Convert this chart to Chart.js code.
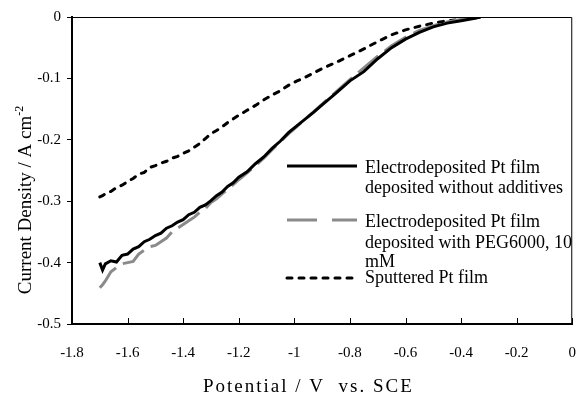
<!DOCTYPE html>
<html>
<head>
<meta charset="utf-8">
<script src="https://cdn.jsdelivr.net/npm/chart.js@4.4.0/dist/chart.umd.min.js"></script>
<style>
  html, body { margin: 0; padding: 0; background: #fff; }
  canvas { display: block; }
</style>
</head>
<body>
<canvas id="cv" width="588" height="396"></canvas>
<script>
// potential (V vs. SCE)
const potential = [-1.70, -1.69, -1.68, -1.66, -1.64, -1.62, -1.60, -1.58, -1.56, -1.54, -1.52, -1.50,
  -1.48, -1.46, -1.44, -1.42, -1.40, -1.38, -1.36, -1.34, -1.32, -1.30, -1.28, -1.26, -1.24, -1.22,
  -1.20, -1.17, -1.14, -1.11, -1.08, -1.05, -1.02, -0.99, -0.96, -0.93, -0.90, -0.85, -0.80, -0.75,
  -0.70, -0.65, -0.60, -0.55, -0.50, -0.45, -0.40, -0.36, -0.33];

// current density (A cm-2)
const noAdditives = [-0.400, -0.412, -0.402, -0.397, -0.399, -0.388, -0.386, -0.378, -0.374, -0.366, -0.362, -0.356,
  -0.352, -0.344, -0.340, -0.334, -0.330, -0.322, -0.318, -0.310, -0.306, -0.299, -0.291, -0.285, -0.276, -0.270,
  -0.261, -0.252, -0.239, -0.228, -0.214, -0.202, -0.188, -0.177, -0.166, -0.155, -0.143, -0.124, -0.104, -0.089,
  -0.068, -0.050, -0.036, -0.025, -0.016, -0.010, -0.006, -0.003, 0];
const withPEG = [-0.441, -0.436, -0.430, -0.415, -0.408, -0.402, -0.400, -0.398, -0.386, -0.380, -0.374, -0.372,
  -0.366, -0.360, -0.350, -0.344, -0.338, -0.332, -0.326, -0.318, -0.312, -0.302, -0.296, -0.288, -0.281, -0.273,
  -0.265, -0.254, -0.242, -0.230, -0.216, -0.203, -0.190, -0.178, -0.166, -0.154, -0.142, -0.122, -0.102, -0.083,
  -0.064, -0.047, -0.033, -0.022, -0.014, -0.008, -0.004, -0.002, 0];
const sputtered = [-0.293, -0.291, -0.288, -0.284, -0.278, -0.274, -0.268, -0.263, -0.256, -0.253, -0.245, -0.242,
  -0.238, -0.235, -0.230, -0.227, -0.222, -0.218, -0.212, -0.206, -0.198, -0.190, -0.185, -0.179, -0.172, -0.166,
  -0.160, -0.152, -0.144, -0.135, -0.127, -0.120, -0.111, -0.104, -0.098, -0.091, -0.084, -0.074, -0.063, -0.052,
  -0.040, -0.029, -0.021, -0.015, -0.010, -0.006, -0.004, -0.002, 0];

const seriesLabels = [
  ['Electrodeposited Pt film', 'deposited without additives'],
  ['Electrodeposited Pt film', 'deposited with PEG6000, 10', 'mM'],
  ['Sputtered Pt film']
];

const xTitle = 'Potential / V  vs. SCE';
const yTitle = 'Current Density / A cm';

const FONT = '"Liberation Serif", "Times New Roman", serif';

function pts(ys) {
  return potential.map((x, i) => ({ x: x, y: ys[i] }));
}

// legend rows: line y and text line centres
const legendRows = [
  { lineY: 166, textY: [168, 188] },
  { lineY: 220, textY: [222, 243, 262] },
  { lineY: 278, textY: [278] }
];

const extras = {
  id: 'extras',
  afterDraw(chart) {
    const ctx = chart.ctx;
    const a = chart.chartArea;
    const xs = chart.scales.x;
    ctx.save();

    // frame top + right
    ctx.strokeStyle = '#000';
    ctx.lineWidth = 1;
    ctx.beginPath();
    ctx.moveTo(a.left, a.top + 0.5);
    ctx.lineTo(a.right - 0.5, a.top + 0.5);
    ctx.lineTo(a.right - 0.5, a.bottom);
    ctx.stroke();

    // x ticks pointing inward
    xs.ticks.forEach(t => {
      const px = Math.round(xs.getPixelForValue(t.value)) + 0.5;
      ctx.beginPath();
      ctx.moveTo(px, a.bottom);
      ctx.lineTo(px, a.bottom - 6);
      ctx.stroke();
    });

    // legend
    chart.data.datasets.forEach((ds, i) => {
      const row = legendRows[i];
      ctx.strokeStyle = ds.borderColor;
      ctx.lineWidth = ds.borderWidth;
      ctx.lineCap = ds.borderCapStyle || 'butt';
      ctx.setLineDash(ds.legendDash || ds.borderDash || []);
      ctx.beginPath();
      ctx.moveTo(287, row.lineY);
      ctx.lineTo(357, row.lineY);
      ctx.stroke();
      ctx.setLineDash([]);
      ctx.fillStyle = '#000';
      ctx.font = '18px ' + FONT;
      ctx.textAlign = 'left';
      ctx.textBaseline = 'middle';
      seriesLabels[i].forEach((s, j) => ctx.fillText(s, 365, row.textY[j]));
    });

    // x title
    ctx.fillStyle = '#000';
    ctx.font = '19px ' + FONT;
    ctx.textAlign = 'left';
    ctx.textBaseline = 'alphabetic';
    ctx.letterSpacing = '2px';
    ctx.fillText(xTitle, 203, 392);
    ctx.letterSpacing = '0px';

    // y title with superscript
    ctx.translate(31, 200);
    ctx.rotate(-Math.PI / 2);
    ctx.font = '19px ' + FONT;
    const w1 = ctx.measureText(yTitle).width;
    ctx.font = '12px ' + FONT;
    const w2 = ctx.measureText('-2').width;
    const start = -(w1 + w2) / 2;
    ctx.font = '19px ' + FONT;
    ctx.fillText(yTitle, start, 0);
    ctx.font = '12px ' + FONT;
    ctx.fillText('-2', start + w1, -8);
    ctx.restore();
  }
};

new Chart(document.getElementById('cv'), {
  type: 'scatter',
  data: {
    datasets: [{
      label: seriesLabels[0].join(' '),
      data: pts(noAdditives),
      showLine: true,
      borderColor: '#000',
      borderWidth: 3,
      pointRadius: 0
    }, {
      label: seriesLabels[1].join(' '),
      data: pts(withPEG),
      showLine: true,
      borderColor: '#8a8a8a',
      borderWidth: 3,
      borderDash: [26, 8],
      legendDash: [30, 15],
      pointRadius: 0
    }, {
      label: seriesLabels[2][0],
      data: pts(sputtered),
      showLine: true,
      borderColor: '#000',
      borderWidth: 3,
      borderDash: [5, 7],
      borderCapStyle: 'round',
      pointRadius: 0
    }]
  },
  options: {
    responsive: false,
    animation: false,
    devicePixelRatio: 1,
    layout: { padding: { top: 17, right: 4, left: 0, bottom: 0 } },
    plugins: { legend: { display: false }, tooltip: { enabled: false } },
    scales: {
      x: {
        type: 'linear',
        min: -1.8,
        max: 0,
        afterFit: s => { s.height = 72; },
        grid: { display: false },
        border: { color: '#000', width: 2 },
        ticks: {
          stepSize: 0.2,
          padding: 12,
          color: '#000',
          font: { family: FONT, size: 15 },
          maxRotation: 0,
          callback: v => String(+v.toFixed(1))
        }
      },
      y: {
        min: -0.5,
        max: 0,
        afterFit: s => { s.width = 72; },
        grid: { drawOnChartArea: false, tickLength: 5, color: '#000' },
        border: { color: '#000', width: 2 },
        ticks: {
          stepSize: 0.1,
          padding: 6,
          color: '#000',
          font: { family: FONT, size: 15 },
          callback: v => String(+v.toFixed(1))
        }
      }
    }
  },
  plugins: [extras]
});
</script>
</body>
</html>
